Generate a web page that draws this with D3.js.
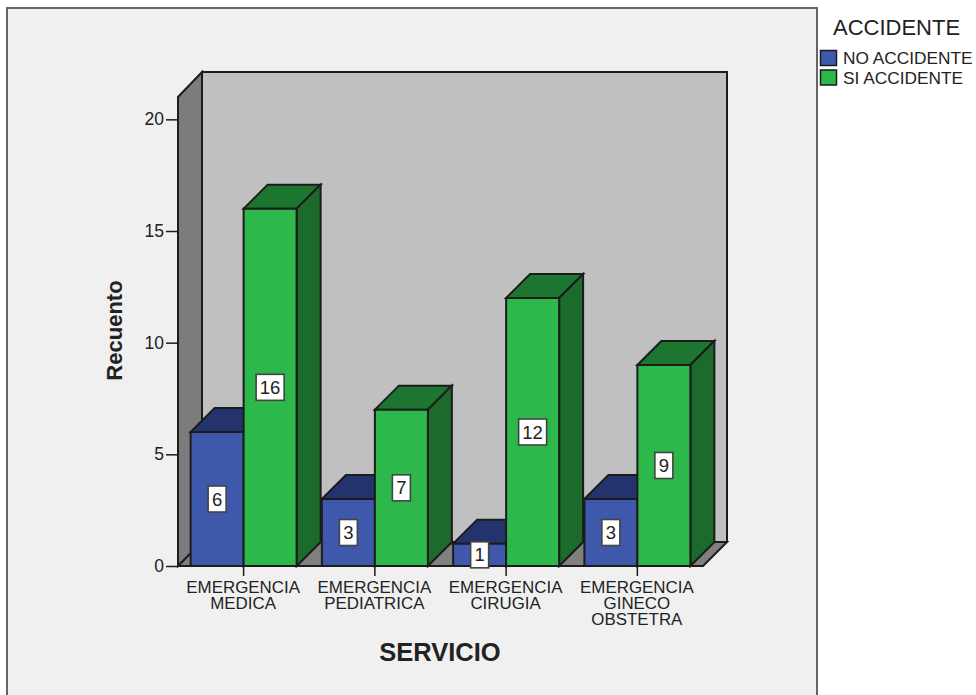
<!DOCTYPE html>
<html><head><meta charset="utf-8">
<script src="https://cdn.jsdelivr.net/npm/d3@7/dist/d3.min.js"></script>
<style>html,body{margin:0;padding:0;background:#fff}svg{display:block}text{font-family:"Liberation Sans",Arial,sans-serif;fill:#222}</style>
</head><body><svg id="c" width="976" height="695"></svg>
<script>
const categories=[["EMERGENCIA","MEDICA"],["EMERGENCIA","PEDIATRICA"],["EMERGENCIA","CIRUGIA"],["EMERGENCIA","GINECO","OBSTETRA"]];
const seriesNames=["NO ACCIDENTE","SI ACCIDENTE"];
const noAccidente=[6,3,1,3];
const siAccidente=[16,7,12,9];
const yTicks=[0,5,10,15,20];
const colors=["#3e58ac","#2db84b"];
const topColors=["#22336e","#1d7630"];
const sideColors=["#22336e","#1c6b2c"];
const stroke="#1c1c1c";
const svg=d3.select("#c");
const dx=24,dy=-24;
const x0=d3.scaleBand().domain(d3.range(4)).range([178,703]);
const x1=d3.scaleBand().domain([0,1]).range([x0.bandwidth()/2-53,x0.bandwidth()/2+53]);
const y=d3.scaleLinear().domain([0,21]).range([566,97]);
const L=x0.range()[0],R=x0.range()[1],T=y(21),B=y(0);
const poly=(pts,fill,sw=2)=>svg.append("polygon").attr("points",pts.map(p=>p.join(",")).join(" ")).attr("fill",fill).attr("stroke",stroke).attr("stroke-width",sw).attr("stroke-linejoin","miter");
// frame
svg.append("rect").attr("x",7).attr("y",8).attr("width",810).attr("height",700).attr("fill","#f0f0f0").attr("stroke","#666").attr("stroke-width",2);
// walls
poly([[L+dx,T+dy-1],[R+dx,T+dy-1],[R+dx,B+dy],[L+dx,B+dy]],"#c0c0c0");
poly([[L,T],[L+dx,T+dy-1],[L+dx,B+dy],[L,B]],"#7c7c7c");
poly([[L,B],[L+dx,B+dy],[R+dx,B+dy],[R,B]],"#808080");
// y axis
const yAxis=d3.axisLeft(y).tickValues(yTicks).tickSize(12).tickPadding(2);
const gy=svg.append("g").attr("transform",`translate(${L},0)`).call(yAxis);
gy.select(".domain").remove();
gy.selectAll("line").attr("stroke",stroke).attr("stroke-width",1.5);
gy.selectAll("text").style("font-size","17.5px").style("font-family","Liberation Sans").attr("fill","#222");
// bars
const series=[noAccidente,siAccidente];
const w=x1.bandwidth();
categories.forEach((c,i)=>{
  [0,1].forEach(s=>{
    const v=series[s][i],xa=x0(i)+x1(s),xb=xa+w,yt=y(v);
    poly([[xa,yt],[xa+dx,yt+dy],[xb+dx,yt+dy],[xb,yt]],topColors[s]);
    poly([[xb,yt],[xb+dx,yt+dy],[xb+dx,B+dy],[xb,B]],sideColors[s]);
    poly([[xa,yt],[xb,yt],[xb,B],[xa,B]],colors[s]);
  });
});
// front baseline and x ticks
svg.append("line").attr("x1",L).attr("x2",R).attr("y1",B).attr("y2",B).attr("stroke",stroke).attr("stroke-width",2);
categories.forEach((c,i)=>{
  const cx=x0(i)+x0.bandwidth()/2;
  svg.append("line").attr("x1",cx).attr("x2",cx).attr("y1",B).attr("y2",B+10).attr("stroke",stroke).attr("stroke-width",1.5);
  const t=svg.append("text").attr("text-anchor","middle").style("font-size","16.9px");
  c.forEach((ln,k)=>t.append("tspan").attr("x",cx-0.5).attr("y",593+k*15.8).text(ln));
});
// value labels
categories.forEach((c,i)=>{
  [0,1].forEach(s=>{
    const v=series[s][i],cx=x0(i)+x1(s)+w/2,cy=(y(v)+B)/2,bw=v>=10?28:18,bh=26;
    svg.append("rect").attr("x",cx-bw/2).attr("y",cy-bh/2).attr("width",bw).attr("height",bh).attr("fill","#fff").attr("stroke","#444").attr("stroke-width",1.6);
    svg.append("text").attr("x",cx).attr("y",cy+6.5).attr("text-anchor","middle").style("font-size","18.5px").text(v);
  });
});
// titles
svg.append("text").attr("x",440).attr("y",661).attr("text-anchor","middle").style("font-size","25.5px").style("font-weight","bold").text("SERVICIO");
svg.append("text").attr("transform","translate(122,330.5) rotate(-90)").attr("text-anchor","middle").style("font-size","22px").style("font-weight","bold").text("Recuento");
// legend
svg.append("text").attr("x",833).attr("y",35).style("font-size","22px").text("ACCIDENTE");
seriesNames.forEach((n,i)=>{
  const ly=50+i*19.5;
  svg.append("rect").attr("x",820.5).attr("y",ly+.5).attr("width",16).attr("height",15).attr("fill",colors[i]).attr("stroke",stroke).attr("stroke-width",1.5);
  svg.append("text").attr("x",843).attr("y",ly+14).style("font-size","17.3px").text(n);
});
</script></body></html>
